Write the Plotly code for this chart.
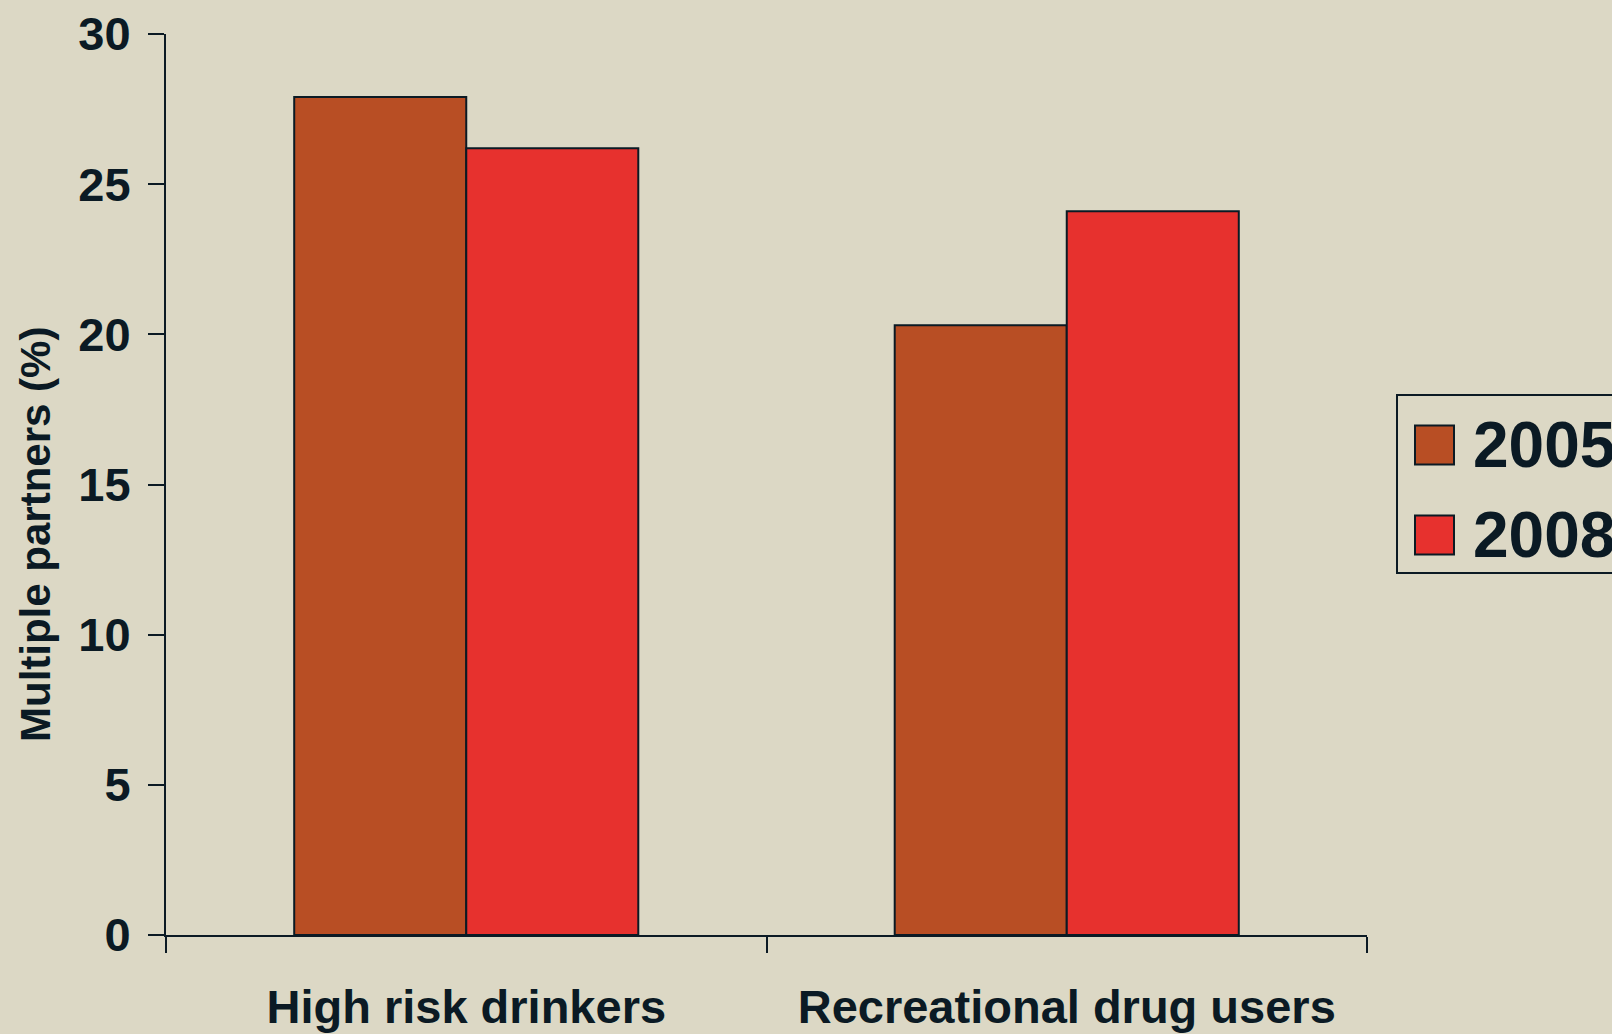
import plotly.graph_objects as go

# Share of respondents reporting multiple sexual partners, by group and survey year
categories = ["High risk drinkers", "Recreational drug users"]
series_names = ["2005", "2008"]
values_2005 = [27.9, 20.3]
values_2008 = [26.2, 24.1]
y_ticks = [0, 5, 10, 15, 20, 25, 30]
y_title = "Multiple partners (%)"

BG = "#DCD8C5"
INK = "#0B1A24"
COLORS = ["#B84E24", "#E7312E"]
FONT = "Liberation Sans, Arial, sans-serif"

W, H = 1612, 1034
M_L, M_R, M_T, M_B = 166, 245, 34, 99

fig = go.Figure()
for name, vals, col in zip(series_names, [values_2005, values_2008], COLORS):
    fig.add_trace(go.Bar(
        x=categories, y=vals, name=name,
        marker=dict(color=col, line=dict(color=INK, width=2)),
        showlegend=False,
    ))

# Legend drawn as a framed box with large square swatches
plot_w = W - M_L - M_R
plot_h = H - M_T - M_B
def px_x(px):
    return (px - M_L) / plot_w
def px_y(py):
    return (H - M_B - py) / plot_h

shapes = [dict(type="rect", xref="paper", yref="paper",
               x0=px_x(1397), x1=px_x(1640), y0=px_y(573), y1=px_y(395),
               line=dict(color=INK, width=2), fillcolor=BG, layer="above")]
annotations = []
row_centers = [445, 535]
for name, col, cy in zip(series_names, COLORS, row_centers):
    shapes.append(dict(type="rect", xref="paper", yref="paper",
                       x0=px_x(1415), x1=px_x(1454),
                       y0=px_y(cy + 19.5), y1=px_y(cy - 19.5),
                       line=dict(color=INK, width=2), fillcolor=col, layer="above"))
    annotations.append(dict(xref="paper", yref="paper", x=px_x(1471), y=px_y(cy),
                            xanchor="left", yanchor="middle", showarrow=False,
                            text=name,
                            font=dict(family=FONT, size=64, color=INK, weight="bold")))

annotations.append(dict(xref="paper", yref="paper", x=px_x(35), y=px_y(535),
                        xanchor="center", yanchor="middle", showarrow=False,
                        textangle=-90, text=y_title,
                        font=dict(family=FONT, size=42, color=INK, weight="bold")))

fig.update_layout(
    width=W, height=H,
    margin=dict(l=M_L, r=M_R, t=M_T, b=M_B, pad=0, autoexpand=False),
    paper_bgcolor=BG, plot_bgcolor=BG,
    barmode="group", bargap=0.427, bargroupgap=0,
    shapes=shapes, annotations=annotations,
    showlegend=False,
    xaxis=dict(
        type="category", showgrid=False, zeroline=False, automargin=False,
        showline=True, linecolor=INK, linewidth=2,
        ticks="outside", tickson="boundaries", ticklen=16, tickwidth=2, tickcolor=INK,
        ticklabelstandoff=30,
        tickfont=dict(family=FONT, size=47, color=INK, weight="bold"),
    ),
    yaxis=dict(
        range=[0, 30], tickvals=y_ticks, showgrid=False, zeroline=False, automargin=False,
        showline=True, linecolor=INK, linewidth=2,
        ticks="outside", ticklen=16, tickwidth=2, tickcolor=INK,
        ticklabelstandoff=8,
        tickfont=dict(family=FONT, size=47, color=INK, weight="bold"),
    ),
)

fig.write_html("out.html")
